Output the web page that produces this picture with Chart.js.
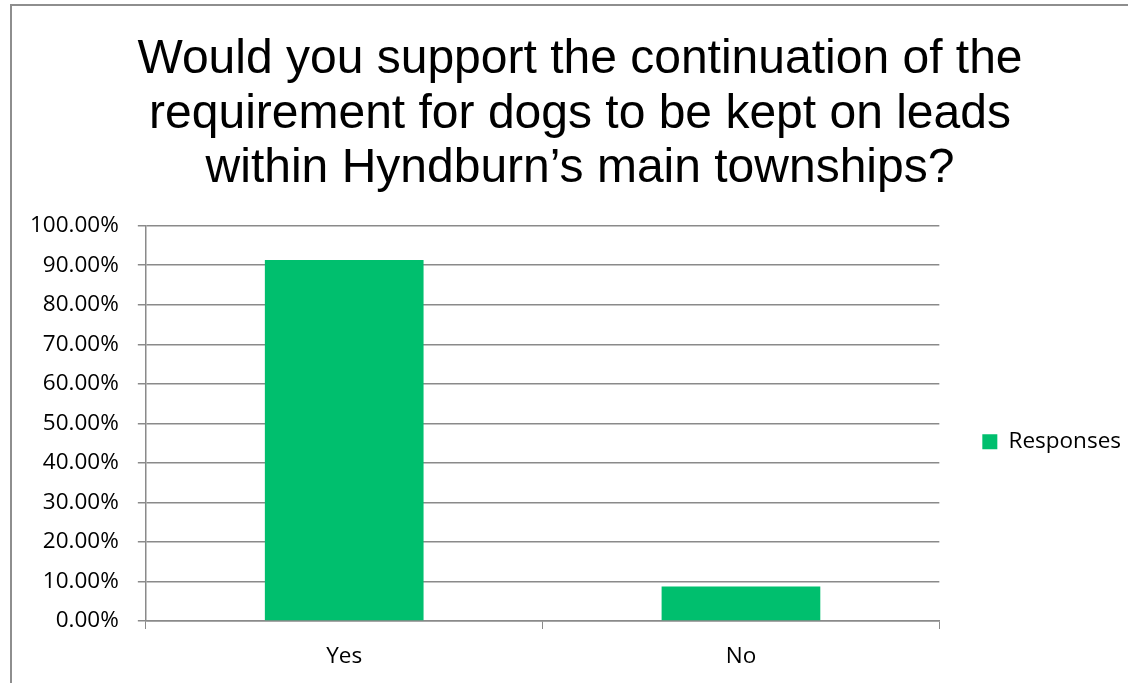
<!DOCTYPE html>
<html>
<head>
<meta charset="utf-8">
<script src="https://cdn.jsdelivr.net/npm/chart.js@4.4.1/dist/chart.umd.min.js"></script>
<style>
  body { margin: 0; background: #fff; }
  #wrap { position: relative; width: 1128px; height: 683px; overflow: hidden; }
  #frame { position: absolute; left: 10px; top: 4px; width: 1120px; height: 700px;
           border-top: 2px solid #8e8e8e; border-left: 2px solid #8e8e8e; }
  canvas { position: absolute; left: 0; top: 0; }
</style>
</head>
<body>
<div id="wrap">
  <div id="frame"></div>
  <canvas id="grafico" width="1131" height="684"></canvas>
</div>
<script>
/* DADOS */
const categorias = ['Yes', 'No'];
const respostas = [91.3, 8.7];
const serieNome = 'Responses';
const titulo = ['Would you support the continuation of the',
                'requirement for dogs to be kept on leads',
                'within Hyndburn\u2019s main townships?'];
const yMax = 100;
const yPasso = 10;

const corBarra = '#00bf6e';
const corLinha = '#8a8a8a';
const fonteEixo = { family: '"Open Sans", sans-serif', size: 22.5 };

/* GRÁFICO */
new Chart(document.getElementById('grafico'), {
  type: 'bar',
  data: {
    labels: categorias,
    datasets: [{
      label: serieNome,
      data: respostas,
      backgroundColor: corBarra,
      categoryPercentage: 1,
      barPercentage: 0.4
    }]
  },
  options: {
    responsive: false,
    animation: false,
    layout: { padding: { left: 29, right: 0, top: 0, bottom: 0 } },
    plugins: {
      title: {
        display: true,
        text: titulo,
        color: '#000',
        font: { family: '"Liberation Sans", Arial, sans-serif', size: 48, weight: 'normal', lineHeight: 1.13 },
        padding: { top: 33, bottom: 30 }
      },
      legend: {
        position: 'right',
        fullSize: false,
        title: { display: true, text: '', font: { size: 10, lineHeight: 1 }, padding: { top: 27, bottom: 0 } },
        labels: {
          boxWidth: 15, boxHeight: 15, padding: 43,
          color: '#000',
          font: fonteEixo
        }
      },
      tooltip: { enabled: false }
    },
    scales: {
      x: {
        grid: { display: true, drawOnChartArea: false, drawTicks: true, tickLength: 8, color: corLinha, offset: true },
        border: { color: corLinha, width: 1.5 },
        ticks: { color: '#000', font: fonteEixo, padding: 14 }
      },
      y: {
        min: 0, max: yMax,
        afterFit: escala => { escala.width -= 18; },
        grid: { color: corLinha, lineWidth: 1.5, tickLength: 8 },
        border: { color: corLinha, width: 1.5 },
        ticks: {
          stepSize: yPasso, color: '#000', font: fonteEixo, padding: 19,
          callback: v => v.toFixed(2) + '%'
        }
      }
    }
  }
});
</script>
</body>
</html>
